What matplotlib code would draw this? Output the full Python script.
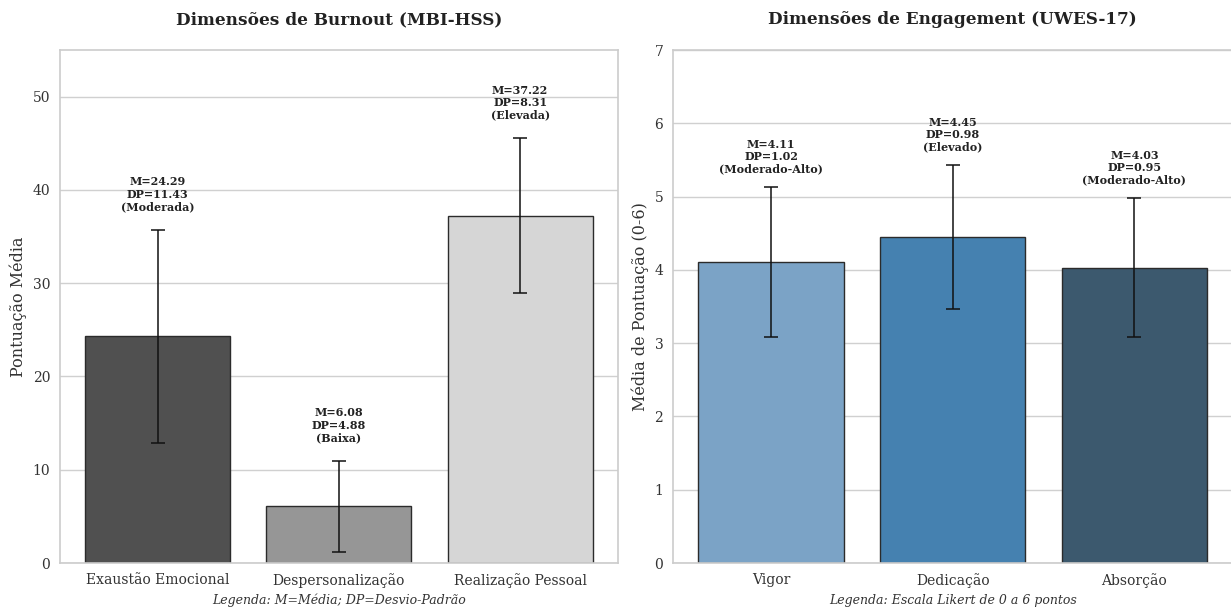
import matplotlib
matplotlib.use('Agg')
import matplotlib.pyplot as plt
import seaborn as sns
import numpy as np

sns.set_style('whitegrid')
plt.rcParams['font.family'] = ['DejaVu Serif']

### Données

burn_cat = ['Exaustão Emocional', 'Despersonalização', 'Realização Pessoal']
burn_m = [24.29, 6.08, 37.22]
burn_dp = [11.43, 4.88, 8.31]
burn_niv = ['Moderada', 'Baixa', 'Elevada']
burn_col = ['#505050', '#969696', '#d6d6d6']

eng_cat = ['Vigor', 'Dedicação', 'Absorção']
eng_m = [4.11, 4.45, 4.03]
eng_dp = [1.02, 0.98, 0.95]
eng_niv = ['Moderado-Alto', 'Elevado', 'Moderado-Alto']
eng_col = ['#7ba3c6', '#4581b0', '#3c596e']

ftsize = 10

fig = plt.figure(figsize=(12.31, 6.1), dpi=100)
ax1 = fig.add_axes([0.0487, 0.077, 0.4533, 0.841])
ax2 = fig.add_axes([0.5467, 0.077, 0.4545, 0.841])


def panel(ax, cat, m, dp, niv, col, ymax, off, titre, ylab, leg):
    x = np.arange(len(cat))
    ax.bar(x, m, width=0.8, color=col, edgecolor='#2b2b2b', linewidth=1)
    ax.errorbar(x, m, yerr=dp, fmt='none', ecolor='#111111', elinewidth=1.1,
                capsize=5, capthick=1.1)
    for i in range(len(cat)):
        ax.text(x[i], m[i] + dp[i] + off,
                'M=%.2f\nDP=%.2f\n(%s)' % (m[i], dp[i], niv[i]),
                ha='center', va='bottom', fontsize=8, fontweight='bold',
                color='#222222', linespacing=1.15)
    ax.set_xlim(-0.54, 2.54)
    ax.set_ylim(0, ymax)
    ax.set_xticks(x)
    ax.set_xticklabels(cat, fontsize=ftsize, color='#333333')
    ax.tick_params(axis='y', labelsize=ftsize, labelcolor='#333333')
    ax.grid(axis='x', visible=False)
    ax.grid(axis='y', color='#d0d0d0', linewidth=1)
    ax.set_axisbelow(True)
    for s in ax.spines.values():
        s.set_color('#cccccc')
        s.set_linewidth(1.2)
    ax.set_title(titre, fontsize=12.2, fontweight='bold', pad=18.5, color='#222222')
    ax.set_ylabel(ylab, fontsize=11.5, color='#333333')
    ax.text(0.5, -0.06, leg, transform=ax.transAxes, ha='center', va='top',
            fontsize=9, style='italic', color='#333333')


panel(ax1, burn_cat, burn_m, burn_dp, burn_niv, burn_col, 55, 1.9,
      'Dimensões de Burnout (MBI-HSS)', 'Pontuação Média',
      'Legenda: M=Média; DP=Desvio-Padrão')
panel(ax2, eng_cat, eng_m, eng_dp, eng_niv, eng_col, 7, 0.17,
      'Dimensões de Engagement (UWES-17)', 'Média de Pontuação (0-6)',
      'Legenda: Escala Likert de 0 a 6 pontos')

plt.savefig('out.png', dpi=100)
